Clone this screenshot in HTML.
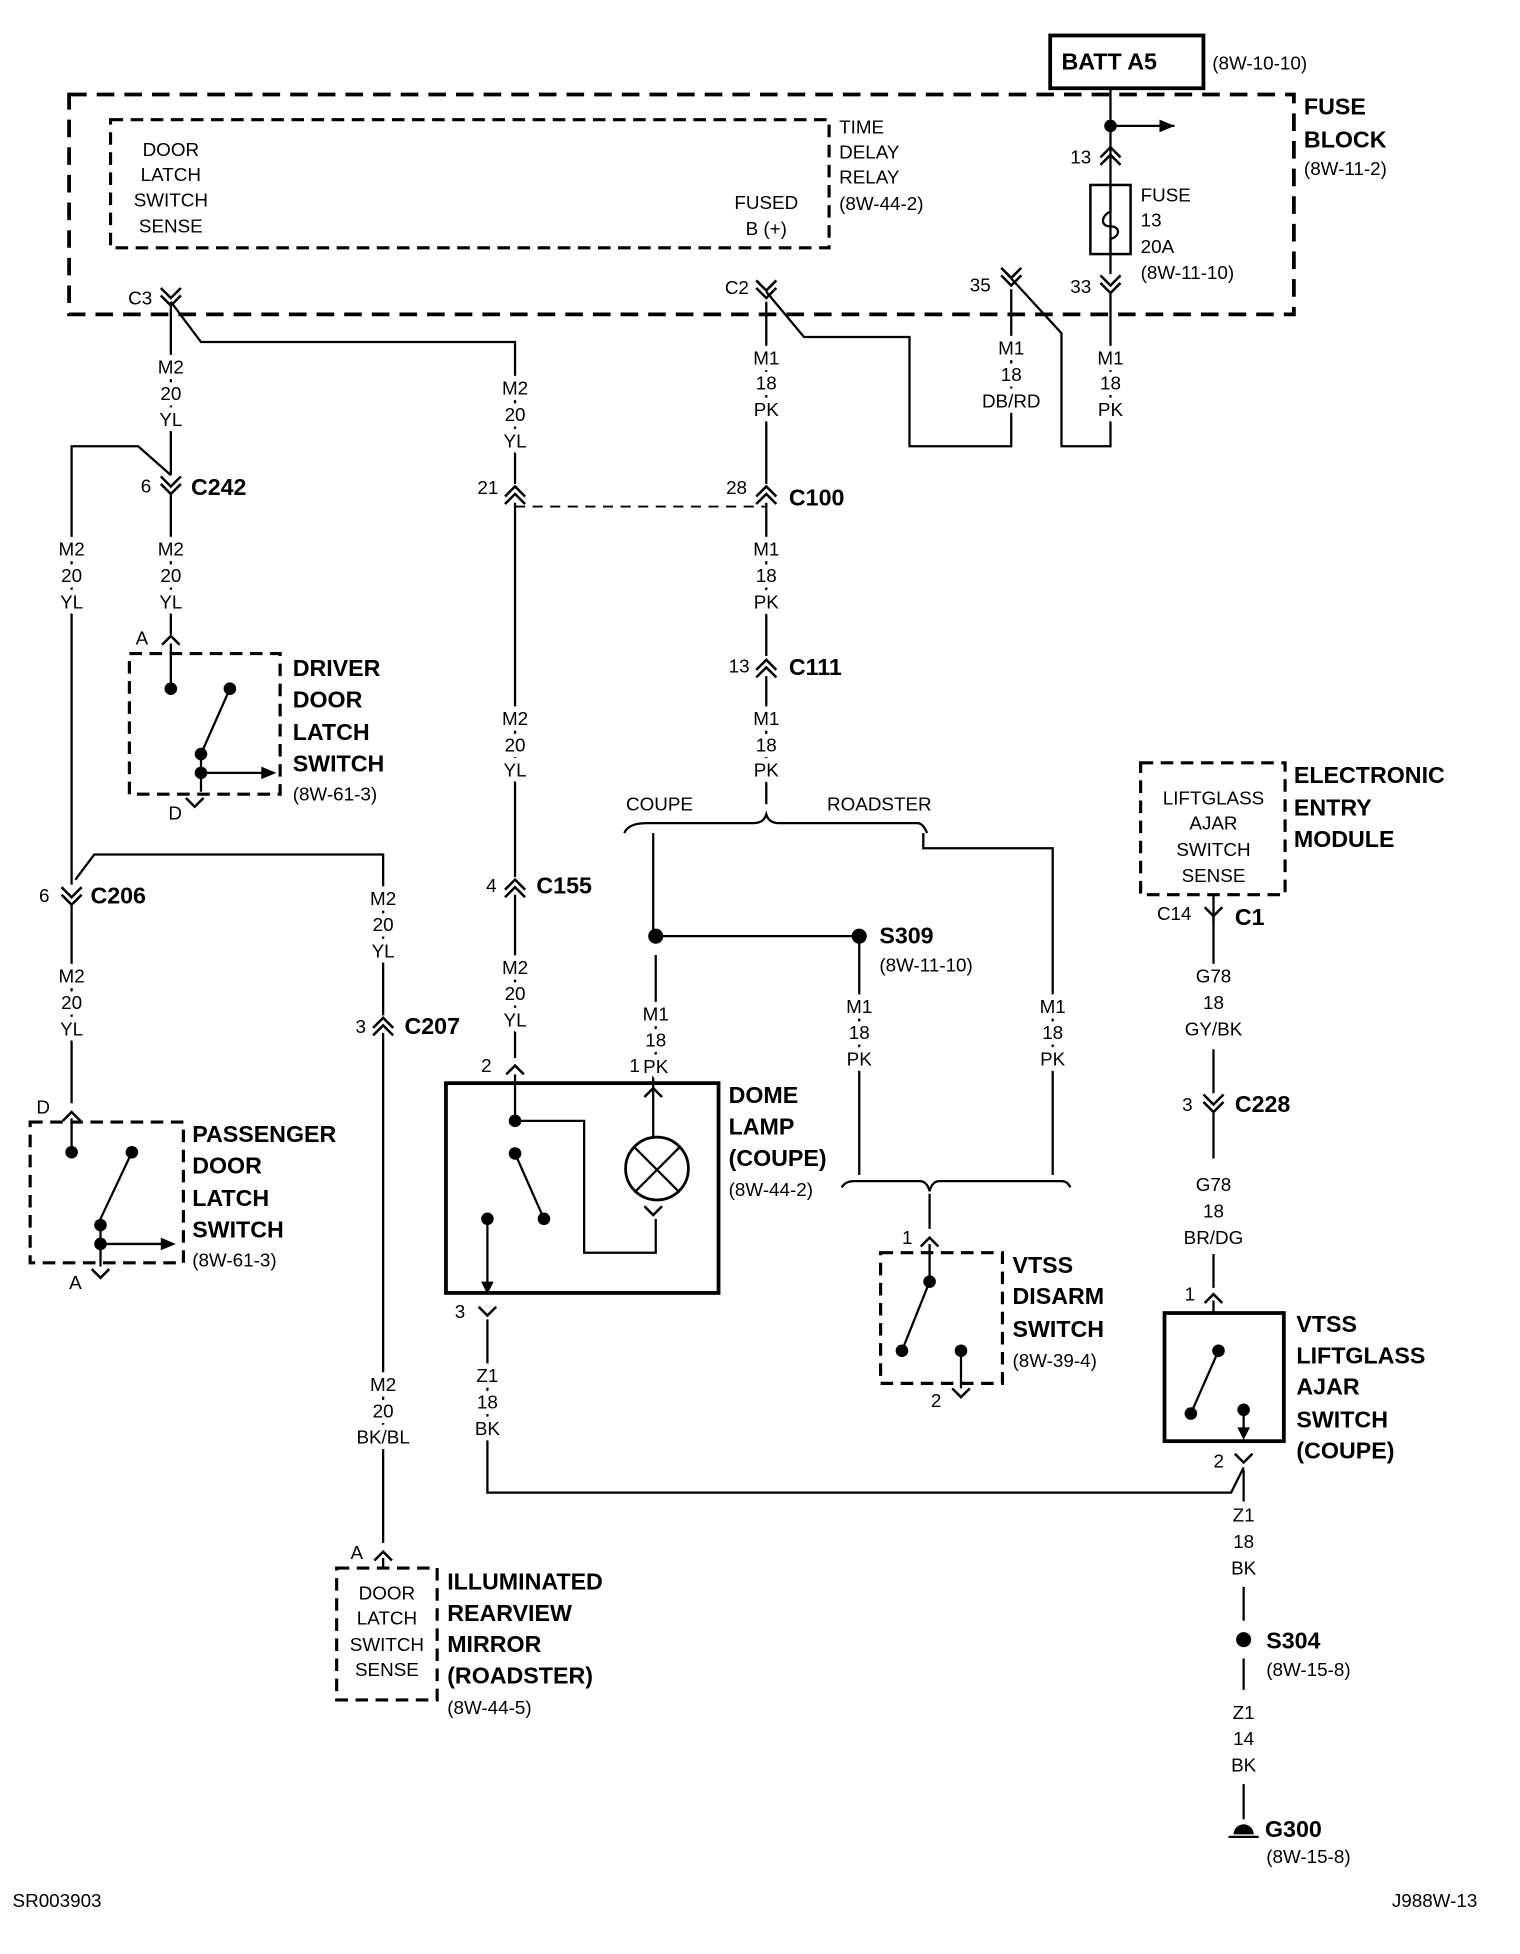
<!DOCTYPE html>
<html><head><meta charset="utf-8"><style>
html,body{margin:0;padding:0;background:#fff}
svg{display:block}
text{font-family:"Liberation Sans",sans-serif;fill:#000}
.s{font-size:15px}
.b{font-size:18.5px;font-weight:bold}
.c{text-anchor:middle}
.h text{paint-order:stroke;stroke:#fff;stroke-width:9px;stroke-linejoin:round}
</style></head><body>
<svg width="1520" height="1954" viewBox="0 0 1210 1555" xmlns="http://www.w3.org/2000/svg">
<defs>
<path id="dd" d="M-8,-9 L0,-1 L8,-9 M-8,-3 L0,5 L8,-3" fill="none" stroke="#000" stroke-width="2"/>
<path id="du" d="M-8,9 L0,1 L8,9 M-8,3 L0,-5 L8,3" fill="none" stroke="#000" stroke-width="2"/>
<path id="sd" d="M-7,-5 L0,2 L7,-5" fill="none" stroke="#000" stroke-width="2"/>
<path id="su" d="M-7,5 L0,-2 L7,5" fill="none" stroke="#000" stroke-width="2"/>
</defs>
<rect width="1210" height="1555" fill="#fff"/>
<g fill="none" stroke="#000">
<rect x="55" y="75" width="975" height="175" stroke-width="3" stroke-dasharray="14,8"/>
<rect x="88" y="95" width="572" height="102" stroke-width="2.5" stroke-dasharray="10,6"/>
<rect x="103" y="520" width="120" height="112" stroke-width="2.5" stroke-dasharray="10,6"/>
<rect x="24" y="893" width="122" height="112" stroke-width="2.5" stroke-dasharray="10,6"/>
<rect x="908" y="607" width="115" height="105" stroke-width="2.5" stroke-dasharray="10,6"/>
<rect x="701" y="997" width="97" height="104" stroke-width="2.5" stroke-dasharray="10,6"/>
<rect x="268" y="1248" width="80" height="105" stroke-width="2.5" stroke-dasharray="10,6"/>
<rect x="836" y="28" width="122" height="42" stroke-width="3"/>
<rect x="355" y="862" width="217" height="167" stroke-width="3"/>
<rect x="927" y="1045" width="95" height="102" stroke-width="3"/>
<rect x="868" y="147" width="32" height="55" stroke-width="2"/>
<path d="M884,147 V168 C876,172 876,180 884,180 C892,180 892,188 884,190 V202" stroke-width="1.8"/>
<g stroke-width="1.8">
<path d="M884,70 V218 M884,100 H935"/>
<path d="M884,232 V355 H845 V265 L800,216"/>
<path d="M805,230 V355 H724 V268 H640 L610,232"/>
<path d="M136,240 V378 M136,392 V505"/>
<path d="M136,240 L160,272 H410 V385 M410,400 V698 M410,712 V842"/>
<path d="M136,378 L110,355 H57 V704 M57,720 V878"/>
<path d="M60,700 L75,680 H305 V808 M305,822 V1228"/>
<path d="M136,512 V548 M183,548 L160,600 V630"/>
<path d="M160,615 H212"/>
<path d="M610,240 V385 M610,400 V522 M610,538 V640"/>
<path d="M497,663 Q500,655 515,655 H600 Q608,655 610,648 Q612,655 620,655 H730 Q735,655 738,663"/>
<path d="M520,663 V745 M522,745 H684 V935 M735,663 V675 H838 V935"/>
<path d="M522,760 V842"/>
<path d="M670,945 Q673,940 680,940 H732 Q738,940 740,948 Q742,940 748,940 H845 Q850,940 852,945"/>
<path d="M740,950 V978"/>
<path d="M410,855 V892 H465 V997 H522 V970 M520,855 V905 M410,918 L433,970 M388,970 V1025"/>
<path d="M505,913 L541,949 M541,913 L505,949"/>
<path d="M388,1050 V1188 H980 L990,1168"/>
<path d="M740,990 V1020 L718,1075 M765,1075 V1105"/>
<path d="M966,712 V770 M966,835 V870 M966,885 V922 M966,998 V1025 M966,1035 V1045"/>
<path d="M970,1075 L948,1125 M990,1122 V1140"/>
<path d="M990,1170 V1195 M990,1263 V1290 M990,1320 V1345 M990,1420 V1448 M978,1462 H1002"/>
<path d="M57,890 V917 M105,917 L80,970 V1008 M80,990 H132"/>
<path d="M305,1240 V1248"/>
</g>
<path d="M935,100 l-12,-5 v10z M220,615 l-12,-5 v10z M140,990 l-12,-5 v10z" fill="#000" stroke="none"/>
<path d="M388,1030 l-5,-10 h10z M990,1146 l-5,-10 h10z" fill="#000" stroke="none"/>
<circle cx="523" cy="930" r="25" stroke-width="2.2"/>
</g>
<g fill="#000">
<circle cx="884" cy="100" r="5"/>
<circle cx="136" cy="548" r="5"/><circle cx="183" cy="548" r="5"/><circle cx="160" cy="600" r="5"/><circle cx="160" cy="615" r="5"/>
<circle cx="57" cy="917" r="5"/><circle cx="105" cy="917" r="5"/><circle cx="80" cy="975" r="5"/><circle cx="80" cy="990" r="5"/>
<circle cx="522" cy="745" r="6"/><circle cx="684" cy="745" r="6"/>
<circle cx="410" cy="892" r="5"/><circle cx="410" cy="918" r="5"/><circle cx="433" cy="970" r="5"/><circle cx="388" cy="970" r="5"/>
<circle cx="740" cy="1020" r="5"/><circle cx="718" cy="1075" r="5"/><circle cx="765" cy="1075" r="5"/>
<circle cx="970" cy="1075" r="5"/><circle cx="948" cy="1125" r="5"/><circle cx="990" cy="1122" r="5"/>
<circle cx="990" cy="1305" r="6"/>
<path d="M982,1460 a8,8 0 0 1 16,0z"/>
</g>
<use href="#du" x="884" y="122"/><use href="#dd" x="884" y="228"/><use href="#dd" x="805" y="222"/>
<use href="#dd" x="136" y="238"/><use href="#dd" x="610" y="232"/>
<use href="#dd" x="136" y="388"/><use href="#du" x="410" y="392"/><use href="#du" x="610" y="392"/>
<use href="#du" x="610" y="530"/><use href="#du" x="410" y="705"/><use href="#dd" x="57" y="715"/>
<use href="#du" x="305" y="815"/><use href="#dd" x="966" y="880"/>
<use href="#su" x="136" y="508"/><use href="#sd" x="155" y="640"/>
<use href="#su" x="57" y="887"/><use href="#sd" x="80" y="1015"/>
<use href="#su" x="410" y="850"/><use href="#su" x="520" y="850"/><use href="#sd" x="388" y="1045"/>
<use href="#su" x="520" y="868"/><use href="#sd" x="520" y="965"/>
<use href="#su" x="740" y="987"/><use href="#sd" x="765" y="1110"/>
<use href="#sd" x="966" y="727"/><use href="#su" x="966" y="1032"/><use href="#sd" x="990" y="1162"/>
<use href="#su" x="305" y="1237"/>
<path d="M966,727 V735" stroke="#000" stroke-width="1.8"/>
<line x1="410" y1="403" x2="610" y2="403" stroke="#000" stroke-width="1.5" stroke-dasharray="8,6"/>
<text x="845" y="55" class="b">BATT A5</text><text x="965" y="55" class="s">(8W-10-10)</text>
<text x="1038" y="91" class="b">FUSE</text><text x="1038" y="117" class="b">BLOCK</text><text x="1038" y="139" class="s">(8W-11-2)</text>
<g class="s c"><text x="136" y="124">DOOR</text><text x="136" y="144">LATCH</text><text x="136" y="164">SWITCH</text><text x="136" y="185">SENSE</text>
<text x="610" y="166">FUSED</text><text x="610" y="187">B (+)</text></g>
<g class="s"><text x="668" y="106">TIME</text><text x="668" y="126">DELAY</text><text x="668" y="146">RELAY</text><text x="668" y="167">(8W-44-2)</text>
<text x="908" y="160">FUSE</text><text x="908" y="180">13</text><text x="908" y="201">20A</text><text x="908" y="222">(8W-11-10)</text>
<text x="852" y="130">13</text><text x="852" y="233">33</text><text x="772" y="232">35</text>
<text x="102" y="242">C3</text><text x="577" y="234">C2</text>
<text x="112" y="392">6</text><text x="380" y="393">21</text><text x="578" y="393">28</text><text x="580" y="535">13</text><text x="387" y="710">4</text><text x="31" y="718">6</text><text x="283" y="822">3</text><text x="941" y="884">3</text>
<text x="108" y="513">A</text><text x="134" y="652">D</text><text x="29" y="886">D</text><text x="55" y="1026">A</text>
<text x="383" y="853">2</text><text x="501" y="853">1</text><text x="362" y="1049">3</text>
<text x="718" y="990">1</text><text x="741" y="1120">2</text><text x="943" y="1035">1</text><text x="966" y="1168">2</text><text x="279" y="1241">A</text>
<text x="921" y="732">C14</text>
<text x="700" y="773">(8W-11-10)</text><text x="233" y="637">(8W-61-3)</text><text x="153" y="1008">(8W-61-3)</text>
<text x="580" y="952">(8W-44-2)</text><text x="806" y="1088">(8W-39-4)</text><text x="1008" y="1334">(8W-15-8)</text><text x="1008" y="1483">(8W-15-8)</text><text x="356" y="1364">(8W-44-5)</text>
<text x="10" y="1518">SR003903</text><text x="1108" y="1518">J988W-13</text>
</g>
<g class="s c h">
<text x="805" y="282">M1</text><text x="805" y="303">18</text><text x="805" y="324">DB/RD</text>
<text x="884" y="290">M1</text><text x="884" y="310">18</text><text x="884" y="331">PK</text>
<text x="136" y="297">M2</text><text x="136" y="318">20</text><text x="136" y="339">YL</text>
<text x="410" y="314">M2</text><text x="410" y="335">20</text><text x="410" y="356">YL</text>
<text x="610" y="290">M1</text><text x="610" y="310">18</text><text x="610" y="331">PK</text>
<text x="136" y="442">M2</text><text x="136" y="463">20</text><text x="136" y="484">YL</text>
<text x="57" y="442">M2</text><text x="57" y="463">20</text><text x="57" y="484">YL</text>
<text x="610" y="442">M1</text><text x="610" y="463">18</text><text x="610" y="484">PK</text>
<text x="610" y="577">M1</text><text x="610" y="598">18</text><text x="610" y="618">PK</text>
<text x="410" y="577">M2</text><text x="410" y="598">20</text><text x="410" y="618">YL</text>
<text x="305" y="720">M2</text><text x="305" y="741">20</text><text x="305" y="762">YL</text>
<text x="57" y="782">M2</text><text x="57" y="803">20</text><text x="57" y="824">YL</text>
<text x="410" y="775">M2</text><text x="410" y="796">20</text><text x="410" y="817">YL</text>
<text x="522" y="812">M1</text><text x="522" y="833">18</text><text x="522" y="854">PK</text>
<text x="684" y="806">M1</text><text x="684" y="827">18</text><text x="684" y="848">PK</text>
<text x="838" y="806">M1</text><text x="838" y="827">18</text><text x="838" y="848">PK</text>
<text x="966" y="782">G78</text><text x="966" y="803">18</text><text x="966" y="824">GY/BK</text>
<text x="966" y="948">G78</text><text x="966" y="969">18</text><text x="966" y="990">BR/DG</text>
<text x="388" y="1100">Z1</text><text x="388" y="1121">18</text><text x="388" y="1142">BK</text>
<text x="305" y="1107">M2</text><text x="305" y="1128">20</text><text x="305" y="1149">BK/BL</text>
<text x="990" y="1211">Z1</text><text x="990" y="1232">18</text><text x="990" y="1253">BK</text>
<text x="990" y="1368">Z1</text><text x="990" y="1389">14</text><text x="990" y="1410">BK</text>
</g>
<g class="s c">
<text x="525" y="645">COUPE</text><text x="700" y="645">ROADSTER</text>
<text x="966" y="640">LIFTGLASS</text><text x="966" y="660">AJAR</text><text x="966" y="681">SWITCH</text><text x="966" y="702">SENSE</text>
<text x="308" y="1273">DOOR</text><text x="308" y="1293">LATCH</text><text x="308" y="1314">SWITCH</text><text x="308" y="1334">SENSE</text>
</g>
<g class="b">
<text x="152" y="394">C242</text><text x="628" y="402">C100</text><text x="628" y="537">C111</text><text x="427" y="711">C155</text>
<text x="72" y="719">C206</text><text x="322" y="823">C207</text><text x="983" y="736">C1</text><text x="983" y="885">C228</text>
<text x="700" y="751">S309</text><text x="1008" y="1312">S304</text><text x="1007" y="1462">G300</text>
<text x="233" y="538">DRIVER</text><text x="233" y="563">DOOR</text><text x="233" y="589">LATCH</text><text x="233" y="614">SWITCH</text>
<text x="153" y="909">PASSENGER</text><text x="153" y="934">DOOR</text><text x="153" y="960">LATCH</text><text x="153" y="985">SWITCH</text>
<text x="580" y="878">DOME</text><text x="580" y="903">LAMP</text><text x="580" y="928">(COUPE)</text>
<text x="806" y="1013">VTSS</text><text x="806" y="1038">DISARM</text><text x="806" y="1064">SWITCH</text>
<text x="1030" y="623">ELECTRONIC</text><text x="1030" y="649">ENTRY</text><text x="1030" y="674">MODULE</text>
<text x="1032" y="1060">VTSS</text><text x="1032" y="1085">LIFTGLASS</text><text x="1032" y="1110">AJAR</text><text x="1032" y="1136">SWITCH</text><text x="1032" y="1161">(COUPE)</text>
<text x="356" y="1265">ILLUMINATED</text><text x="356" y="1290">REARVIEW</text><text x="356" y="1315">MIRROR</text><text x="356" y="1340">(ROADSTER)</text>
</g>
</svg>
</body></html>
